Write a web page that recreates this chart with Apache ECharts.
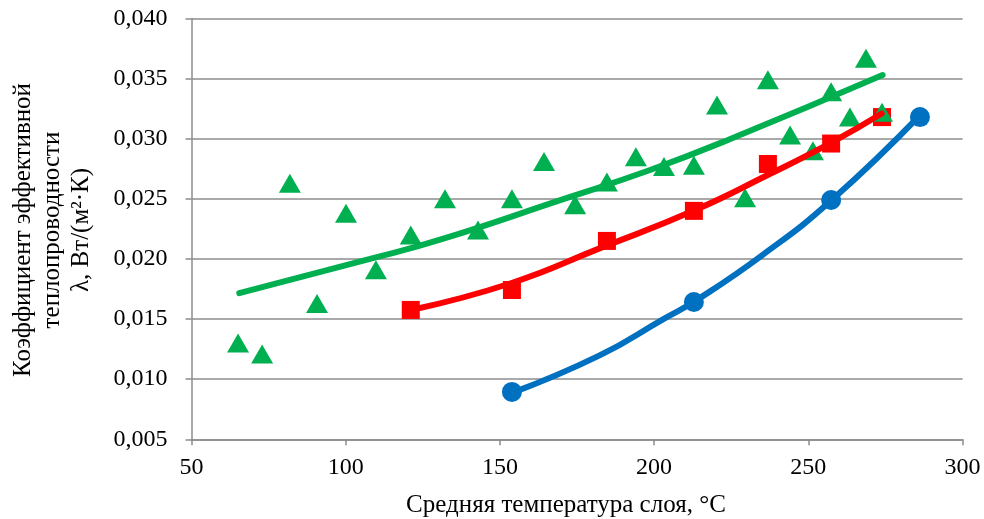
<!DOCTYPE html>
<html>
<head>
<meta charset="utf-8">
<script src="https://cdn.jsdelivr.net/npm/echarts@6/dist/echarts.min.js"></script>
<style>
html,body{margin:0;padding:0;background:#fff;}
#chart{width:984px;height:519px;}
</style>
</head>
<body>
<div id="chart"></div>
<script>
// Axis tick values
var xTicks = [50, 100, 150, 200, 250, 300];
var yTicks = [0.005, 0.010, 0.015, 0.020, 0.025, 0.030, 0.035, 0.040];

// Green triangles (measured points)
var greenX = [65.1, 72.9, 81.9, 90.7, 100.1, 109.8, 121.1, 132.2, 142.9, 153.9, 164.3, 174.4, 184.7, 194.1, 203.2, 212.9, 220.4, 229.5, 236.9, 244.1, 251.5, 257.4, 263.5, 268.7, 273.9];
var greenY = [0.0130, 0.0121, 0.0263, 0.0163, 0.0238, 0.0191, 0.0220, 0.0250, 0.0224, 0.0250, 0.0281, 0.0245, 0.0264, 0.0285, 0.0277, 0.0278, 0.0328, 0.0251, 0.0349, 0.0303, 0.0290, 0.0339, 0.0318, 0.0367, 0.0322];
// Green trend curve
var greenLineX = [65.5, 107.9, 130.6, 170.8, 198.7, 224.9, 274.1];
var greenLineY = [0.01715, 0.0200, 0.0216, 0.0250, 0.0274, 0.0300, 0.0353];

// Red squares
var redX = [121.1, 153.9, 184.7, 212.9, 236.9, 257.4, 273.9];
var redY = [0.01576, 0.01742, 0.0215, 0.0240, 0.0279, 0.0296, 0.0318];
// Red curve
var redLineX = [121.9, 153.8, 182.5, 212.7, 237.0, 257.6, 273.8];
var redLineY = [0.0158, 0.0180, 0.0209, 0.0240, 0.0270, 0.0297, 0.0321];

// Blue circles
var blueX = [153.9, 212.9, 257.4, 286.2];
var blueY = [0.00894, 0.01642, 0.0249, 0.0318];
// Blue curve
var blueLineX = [154.1, 182.5, 203.0, 213.3, 235.0, 257.6, 286.0];
var blueLineY = [0.00888, 0.0120, 0.0150, 0.0165, 0.0203, 0.0249, 0.0319];

var xTitle = 'Средняя температура слоя, °С';
var yTitleLines = ['Коэффициент эффективной', 'теплопроводности', 'λ, Вт/(м²·К)'];

function pairs(xs, ys) { return xs.map(function (x, i) { return [x, ys[i]]; }); }

var GREEN = '#00B050', RED = '#FF0000', BLUE = '#0070C0', GRID = '#8C8C8C';
var FONT = 'Liberation Serif';

var chart = echarts.init(document.getElementById('chart'), null, {renderer: 'canvas'});
chart.setOption({
  animation: false,
  backgroundColor: '#ffffff',
  grid: {left: 191.5, right: 21.5, top: 18.5, bottom: 79.7, containLabel: false},
  xAxis: {
    type: 'value', min: xTicks[0], max: xTicks[xTicks.length - 1], interval: 50,
    axisLine: {show: true, lineStyle: {color: GRID, width: 1.5}},
    axisTick: {show: true, length: 6, lineStyle: {color: GRID, width: 1.5}},
    splitLine: {show: false},
    axisLabel: {color: '#000', fontFamily: FONT, fontSize: 24, margin: 16}
  },
  yAxis: {
    type: 'value', min: yTicks[0], max: yTicks[yTicks.length - 1], interval: 0.005,
    axisLine: {show: true, lineStyle: {color: GRID, width: 1.5}},
    axisTick: {show: true, length: 6, lineStyle: {color: GRID, width: 1.5}},
    splitLine: {show: true, lineStyle: {color: GRID, width: 1.5}},
    axisLabel: {color: '#000', fontFamily: FONT, fontSize: 24, margin: 24,
      formatter: function (v) { return v.toFixed(3).replace('.', ','); }}
  },
  graphic: [
    {type: 'text', silent: true, x: 566, y: 505,
      style: {text: xTitle, fill: '#000', font: '25px "Liberation Serif"', textAlign: 'center', textVerticalAlign: 'middle'}},
    {type: 'text', silent: true, x: 52, y: 230, rotation: Math.PI / 2,
      style: {text: yTitleLines.join('\n'), fill: '#000', font: '25px "Liberation Serif"', textAlign: 'center', textVerticalAlign: 'middle', lineHeight: 29}}
  ],
  series: [
    {type: 'scatter', data: pairs(redX, redY), symbol: 'rect', symbolSize: 18, itemStyle: {color: RED, opacity: 1}, z: 2},
    {type: 'scatter', data: pairs(blueX, blueY), symbol: 'circle', symbolSize: 20, itemStyle: {color: BLUE, opacity: 1}, z: 2},
    {type: 'scatter', data: pairs(greenX, greenY), symbol: 'triangle', symbolSize: [22, 19], itemStyle: {color: GREEN, opacity: 1}, z: 3},
    {type: 'line', data: pairs(redLineX, redLineY), smooth: 0.5, showSymbol: false, lineStyle: {color: RED, width: 6, cap: 'round'}, z: 4},
    {type: 'line', data: pairs(blueLineX, blueLineY), smooth: 0.5, showSymbol: false, lineStyle: {color: BLUE, width: 6, cap: 'round'}, z: 4},
    {type: 'line', data: pairs(greenLineX, greenLineY), smooth: 0.5, showSymbol: false, lineStyle: {color: GREEN, width: 6, cap: 'round'}, z: 4}
  ]
});
</script>
</body>
</html>
